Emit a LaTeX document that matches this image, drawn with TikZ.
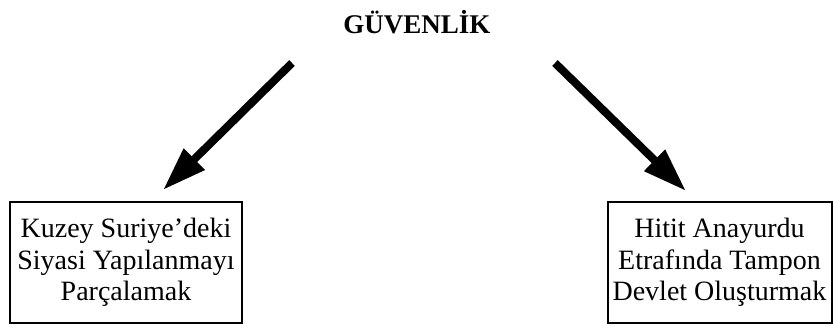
\documentclass[tikz,border=0pt]{standalone}
\usepackage{fontspec}
\setmainfont{Liberation Serif}
\usepackage{tikz}
\usetikzlibrary{arrows.meta, positioning}
\tikzset{
  goal/.style={rectangle, draw=black, line width=2pt, align=center,
    inner sep=0pt, font=\fontsize{28}{31.5}\selectfont},
  heading/.style={font=\fontsize{27}{30}\selectfont\bfseries},
  arrow/.style={-{Triangle[length=44pt, width=28pt]}, line width=8pt, color=black}
}

\begin{document}
\begin{tikzpicture}[x=1pt, y=-1pt]
  \useasboundingbox (0,0) rectangle (833,327);

  % Title
  \node[heading] (guvenlik) at (417,22) {GÜVENLİK};

  % Goal boxes
  \node[goal, minimum width=232pt, minimum height=121pt] (kuzey) at (126,262.5)
    {Kuzey Suriye’deki\\Siyasi Yapılanmayı\\Parçalamak};
  \node[goal, minimum width=224pt, minimum height=121pt] (hitit) at (719.5,262.5)
    {Hitit Anayurdu\\Etrafında Tampon\\Devlet Oluşturmak};

  % Arrows
  \coordinate (lstart) at (292,63);
  \coordinate (lend) at (163,190);
  \coordinate (rstart) at (555,63);
  \coordinate (rend) at (686,191);
  \draw[arrow] (lstart) -- (lend);
  \draw[arrow] (rstart) -- (rend);
\end{tikzpicture}
\end{document}
